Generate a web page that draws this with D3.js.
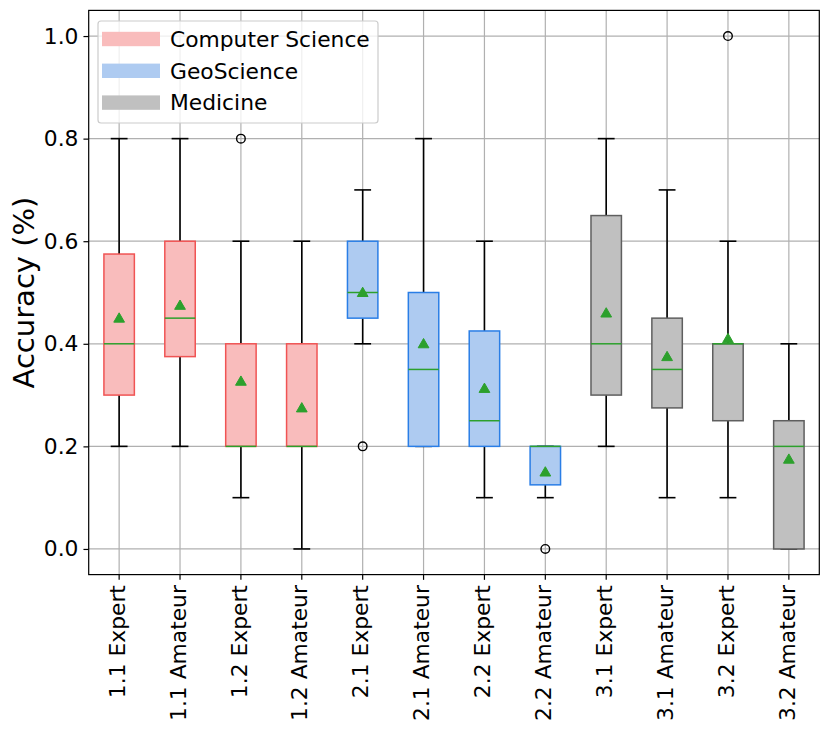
<!DOCTYPE html>
<html><head><meta charset="utf-8">
<script src="https://cdn.jsdelivr.net/npm/d3@7"></script>
<style>
body{margin:0;background:#fff;}
text{font-family:"DejaVu Sans",sans-serif;}
</style></head>
<body><svg id="chart" width="830" height="733"></svg>
<script>
const categories = ["1.1 Expert","1.1 Amateur","1.2 Expert","1.2 Amateur","2.1 Expert","2.1 Amateur","2.2 Expert","2.2 Amateur","3.1 Expert","3.1 Amateur","3.2 Expert","3.2 Amateur"];
const groups   = ["CS","CS","CS","CS","Geo","Geo","Geo","Geo","Med","Med","Med","Med"];
const whiskLo  = [0.2, 0.2, 0.1, 0.0, 0.4, 0.2, 0.1, 0.1, 0.2, 0.1, 0.1, 0.0];
const q1       = [0.3, 0.375, 0.2, 0.2, 0.45, 0.2, 0.2, 0.125, 0.3, 0.275, 0.25, 0.0];
const medians  = [0.4, 0.45, 0.2, 0.2, 0.5, 0.35, 0.25, 0.2, 0.4, 0.35, 0.4, 0.2];
const q3       = [0.575, 0.6, 0.4, 0.4, 0.6, 0.5, 0.425, 0.2, 0.65, 0.45, 0.4, 0.25];
const whiskHi  = [0.8, 0.8, 0.6, 0.6, 0.7, 0.8, 0.6, 0.2, 0.8, 0.7, 0.6, 0.4];
const means    = [0.45, 0.475, 0.327, 0.275, 0.5, 0.4, 0.313, 0.15, 0.46, 0.375, 0.41, 0.175];
const fliers   = [[], [], [0.8], [], [0.2], [], [], [0.0], [], [], [1.0], []];
const legendLabels = ["Computer Science","GeoScience","Medicine"];
const legendKeys = ["CS","Geo","Med"];
const yTicks = [0.0, 0.2, 0.4, 0.6, 0.8, 1.0];

const fills = {CS:"#f9bcbc", Geo:"#aecbf1", Med:"#c0c0c0"};
const edges = {CS:"#f05454", Geo:"#2a7ee6", Med:"#5f5f5f"};
const green = "#2ca02c";

const L = 88.7, R = 819.3, T = 10.4, B = 574.6;
const svg = d3.select("#chart");
const x = d3.scaleBand().domain(categories).range([L, R]).padding(0);
const y = d3.scaleLinear().domain([-0.05, 1.05]).range([B, T]);
const bw = x.bandwidth();
const cx = c => x(c) + bw / 2;
const boxW = bw * 0.5, capW = bw * 0.25;

const data = categories.map((c, i) => ({c, g: groups[i], lo: whiskLo[i], q1: q1[i], med: medians[i], q3: q3[i], hi: whiskHi[i], mean: means[i], fl: fliers[i]}));

// grid
const grid = svg.append("g");
grid.selectAll("line.gy").data(yTicks).join("line")
  .attr("x1", L).attr("x2", R).attr("y1", d => y(d)).attr("y2", d => y(d))
  .attr("stroke", "#b0b0b0").attr("stroke-width", 1.2);
grid.selectAll("line.gx").data(categories).join("line")
  .attr("x1", d => cx(d)).attr("x2", d => cx(d)).attr("y1", T).attr("y2", B)
  .attr("stroke", "#b0b0b0").attr("stroke-width", 1.2);

const marks = svg.append("g");
// whiskers
data.forEach(d => {
  const g = marks.append("g");
  const X = cx(d.c);
  g.append("line").attr("x1", X).attr("x2", X).attr("y1", y(d.q1)).attr("y2", y(d.lo)).attr("stroke", "#000").attr("stroke-width", 1.6);
  g.append("line").attr("x1", X).attr("x2", X).attr("y1", y(d.q3)).attr("y2", y(d.hi)).attr("stroke", "#000").attr("stroke-width", 1.6);
  [d.lo, d.hi].forEach(v => g.append("line").attr("x1", X - capW / 2).attr("x2", X + capW / 2).attr("y1", y(v)).attr("y2", y(v)).attr("stroke", "#000").attr("stroke-width", 1.6).attr("stroke-linecap", "square"));
});
// boxes
marks.selectAll("rect.box").data(data).join("rect")
  .attr("x", d => cx(d.c) - boxW / 2).attr("width", boxW)
  .attr("y", d => y(d.q3)).attr("height", d => y(d.q1) - y(d.q3))
  .attr("fill", d => fills[d.g]).attr("stroke", d => edges[d.g]).attr("stroke-width", 1.5);
// medians
marks.selectAll("line.med").data(data).join("line")
  .attr("x1", d => cx(d.c) - boxW / 2).attr("x2", d => cx(d.c) + boxW / 2)
  .attr("y1", d => y(d.med)).attr("y2", d => y(d.med))
  .attr("stroke", green).attr("stroke-width", 1.5);
// fliers
data.forEach(d => d.fl.forEach(v => {
  marks.append("circle").attr("cx", cx(d.c)).attr("cy", y(v)).attr("r", 4.3)
    .attr("fill", "none").attr("stroke", "#000").attr("stroke-width", 1.4);
}));
// means
const tri = d3.symbol().type(d3.symbolTriangle).size(50);
marks.selectAll("path.mean").data(data).join("path")
  .attr("d", tri)
  .attr("transform", d => `translate(${cx(d.c)},${y(d.mean) + 0.9})`)
  .attr("fill", green).attr("stroke", green).attr("stroke-width", 1);

// axes
const yAxis = svg.append("g").attr("transform", `translate(${L},0)`)
  .call(d3.axisLeft(y).tickValues(yTicks).tickFormat(d3.format(".1f")).tickSize(5.25).tickPadding(5));
const xAxis = svg.append("g").attr("transform", `translate(0,${B})`)
  .call(d3.axisBottom(x).tickSize(5.25).tickPadding(5));
[yAxis, xAxis].forEach(a => {
  a.select(".domain").remove();
  a.selectAll(".tick line").attr("stroke", "#000").attr("stroke-width", 1.2);
  a.selectAll("text").attr("font-family", "DejaVu Sans").attr("font-size", 21.8).attr("fill", "#000");
});
xAxis.selectAll(".tick text")
  .attr("text-anchor", "end")
  .attr("transform", "rotate(-90)")
  .attr("x", -10.5).attr("y", 0).attr("dy", "0.26em");

// frame
svg.append("rect").attr("x", L).attr("y", T).attr("width", R - L).attr("height", B - T)
  .attr("fill", "none").attr("stroke", "#000").attr("stroke-width", 1.2);

// y label
svg.append("text").attr("transform", `translate(34,${(T + B) / 2}) rotate(-90)`)
  .attr("text-anchor", "middle").attr("font-size", 29).attr("fill", "#000").text("Accuracy (%)");

// legend
const lg = svg.append("g");
lg.append("rect").attr("x", 98).attr("y", 21).attr("width", 280).attr("height", 102).attr("rx", 3)
  .attr("fill", "#fff").attr("fill-opacity", 0.8).attr("stroke", "#cccccc").attr("stroke-width", 1.2);
legendKeys.forEach((k, i) => {
  const cy = 39 + i * 31.8;
  lg.append("rect").attr("x", 102).attr("y", cy - 7.2).attr("width", 58).attr("height", 14.4).attr("fill", fills[k]);
  lg.append("text").attr("x", 170).attr("y", cy).attr("dy", "0.36em").attr("font-size", 21.8).attr("fill", "#000").text(legendLabels[i]);
});
</script></body></html>
